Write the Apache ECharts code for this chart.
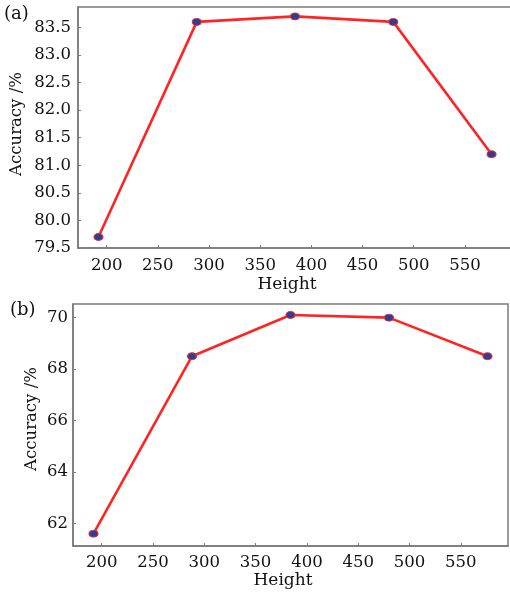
<!DOCTYPE html>
<html>
<head>
<meta charset="utf-8">
<style>
  html, body { margin: 0; padding: 0; background: #fff; }
  #chart { width: 510px; height: 595px; }
</style>
<script src="https://cdn.jsdelivr.net/npm/echarts@6/dist/echarts.min.js"></script>
</head>
<body>
<div id="chart"></div>
<script>
// Image height used for training (x axis of both panels)
const heights = [192, 288, 384, 480, 576];
// Panel (a): accuracy in %
const accuracyA = [79.7, 83.6, 83.7, 83.6, 81.2];
// Panel (b): accuracy in %
const accuracyB = [61.6, 68.5, 70.1, 70.0, 68.5];

// Tick labels
const xTicks = [200, 250, 300, 350, 400, 450, 500, 550];
const yTicksA = [79.5, 80.0, 80.5, 81.0, 81.5, 82.0, 82.5, 83.0, 83.5];
const yTicksB = [62, 64, 66, 68, 70];

const FONT = 'DejaVu Serif';
const AXIS_COLOR = '#7a7a7a';
const LINE_COLOR = '#ff2424';
const DOT_COLOR = '#27409a';

function xAxisFor(gridIndex, labelMargin) {
  return {
    type: 'value', gridIndex: gridIndex, min: 172, max: 596,
    axisLine: { show: true, lineStyle: { color: AXIS_COLOR, width: 1.5 } },
    axisTick: { show: true, inside: true, length: 3, customValues: xTicks,
                lineStyle: { color: AXIS_COLOR, width: 1 } },
    axisLabel: { customValues: xTicks, margin: labelMargin, color: '#111',
                 fontFamily: FONT, fontSize: 16.5 },
    splitLine: { show: false }
  };
}

function yAxisFor(gridIndex, min, max, ticks, digits, labelMargin) {
  return {
    type: 'value', gridIndex: gridIndex, min: min, max: max,
    axisLine: { show: true, lineStyle: { color: AXIS_COLOR, width: 1.5 } },
    axisTick: { show: true, inside: true, length: 3, customValues: ticks,
                lineStyle: { color: AXIS_COLOR, width: 1 } },
    axisLabel: { customValues: ticks, margin: labelMargin, color: '#111',
                 fontFamily: FONT, fontSize: 16.5,
                 formatter: v => Number(v).toFixed(digits) },
    splitLine: { show: false }
  };
}

function lineSeries(axisIndex, values) {
  return {
    type: 'line', xAxisIndex: axisIndex, yAxisIndex: axisIndex,
    data: heights.map((h, i) => [h, values[i]]),
    lineStyle: { color: LINE_COLOR, width: 2.6 },
    symbol: 'circle', symbolSize: [9, 7],
    itemStyle: { color: DOT_COLOR, borderColor: LINE_COLOR, borderWidth: 1 },
    animation: false
  };
}

const chart = echarts.init(document.getElementById('chart'), null, { renderer: 'canvas' });
chart.setOption({
  backgroundColor: '#fff',
  animation: false,
  grid: [
    // upper panel runs slightly past the right edge of the page
    { left: 78, top: 7, width: 434, height: 241, show: true, outerBoundsMode: 'none',
      borderColor: AXIS_COLOR, borderWidth: 1.5, backgroundColor: 'transparent' },
    { left: 73, top: 304, width: 435, height: 242, show: true, outerBoundsMode: 'none',
      borderColor: AXIS_COLOR, borderWidth: 1.5, backgroundColor: 'transparent' }
  ],
  xAxis: [xAxisFor(0, 9), xAxisFor(1, 8)],
  yAxis: [
    yAxisFor(0, 79.5, 83.87, yTicksA, 1, 7),
    yAxisFor(1, 61.12, 70.53, yTicksB, 0, 5)
  ],
  series: [lineSeries(0, accuracyA), lineSeries(1, accuracyB)],
  graphic: [
    { type: 'text', left: 4, top: 5, style: { text: '(a)', font: '18px ' + FONT, fill: '#111' } },
    { type: 'text', left: 10, top: 301, style: { text: '(b)', font: '18px ' + FONT, fill: '#111' } },
    { type: 'text', x: 17, y: 124, rotation: Math.PI / 2,
      style: { text: 'Accuracy /%', font: '16.5px ' + FONT, fill: '#111',
               align: 'center', verticalAlign: 'middle' } },
    { type: 'text', x: 32, y: 419, rotation: Math.PI / 2,
      style: { text: 'Accuracy /%', font: '16.5px ' + FONT, fill: '#111',
               align: 'center', verticalAlign: 'middle' } },
    { type: 'text', x: 287, y: 285,
      style: { text: 'Height', font: '17px ' + FONT, fill: '#111',
               align: 'center', verticalAlign: 'middle' } },
    { type: 'text', x: 283, y: 581,
      style: { text: 'Height', font: '17px ' + FONT, fill: '#111',
               align: 'center', verticalAlign: 'middle' } }
  ]
});
</script>
</body>
</html>
